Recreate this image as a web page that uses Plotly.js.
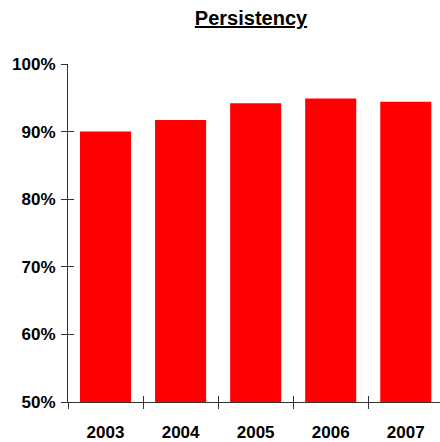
<!DOCTYPE html>
<html><head><meta charset="utf-8">
<script src="https://cdn.plot.ly/plotly-3.0.1.min.js"></script>
<style>html,body{margin:0;padding:0;background:#fff;overflow:hidden}</style>
</head><body>
<div id="chart" style="width:440px;height:442px"></div>
<script>
const years = ['2003','2004','2005','2006','2007'];
const persistency = [90.0, 91.7, 94.2, 94.9, 94.4];
const yTicks = [50, 60, 70, 80, 90, 100];
const yTickText = ['50%','60%','70%','80%','90%','100%'];
const chartTitle = 'Persistency';

const fnt = {family:'Liberation Sans, Arial, sans-serif', size:17, color:'#000', weight:700};
const axisColor = '#333';
const xr = [-0.5, 4.456];
const yr = [50, 100];

const data = [{
  type:'bar', x:years, y:persistency, marker:{color:'#FF0000'}, width:0.68,
  hoverinfo:'x+y'
},{
  type:'scatter', x:[], y:[], xaxis:'x2', yaxis:'y2', hoverinfo:'skip', showlegend:false
}];

const layout = {
  width:440, height:442,
  margin:{l:68, r:0, t:64, b:40},
  paper_bgcolor:'#fff', plot_bgcolor:'#fff',
  showlegend:false,
  title:{text:'<span style="text-decoration:underline">'+chartTitle+'</span>',
    font:{family:'Liberation Sans, Arial, sans-serif', size:20, color:'#000', weight:700},
    x:251/440, xanchor:'center', xref:'container', y:1-25/442, yanchor:'bottom', yref:'container'},
  xaxis:{type:'category', range:xr, tickson:'boundaries', ticks:'outside', ticklen:6, tickwidth:1,
    tickcolor:axisColor, showline:true, linecolor:axisColor, linewidth:1, showgrid:false,
    zeroline:false, tickfont:fnt, ticklabelstandoff:15, fixedrange:true},
  xaxis2:{overlaying:'x', anchor:'y2', range:xr, tickmode:'array', tickvals:[-0.5,0.5,1.5,2.5,3.5], ticks:'inside',
    ticklen:6, tickwidth:1, tickcolor:axisColor, showticklabels:false, showline:false,
    showgrid:false, zeroline:false, side:'bottom'},
  yaxis:{range:yr, tickmode:'array', tickvals:yTicks, ticktext:yTickText, ticks:'outside', ticklen:6, tickwidth:1,
    tickcolor:axisColor, showline:true, linecolor:axisColor, linewidth:1, showgrid:false,
    zeroline:false, tickfont:fnt, ticklabelstandoff:2},
  yaxis2:{overlaying:'y', anchor:'x2', side:'left', range:yr, tickmode:'array', tickvals:yTicks, ticks:'inside',
    ticklen:6, tickwidth:1, tickcolor:axisColor, showticklabels:false, showline:false,
    showgrid:false, zeroline:false}
};
Plotly.newPlot('chart', data, layout, {displayModeBar:false, staticPlot:true});
</script>
</body></html>
